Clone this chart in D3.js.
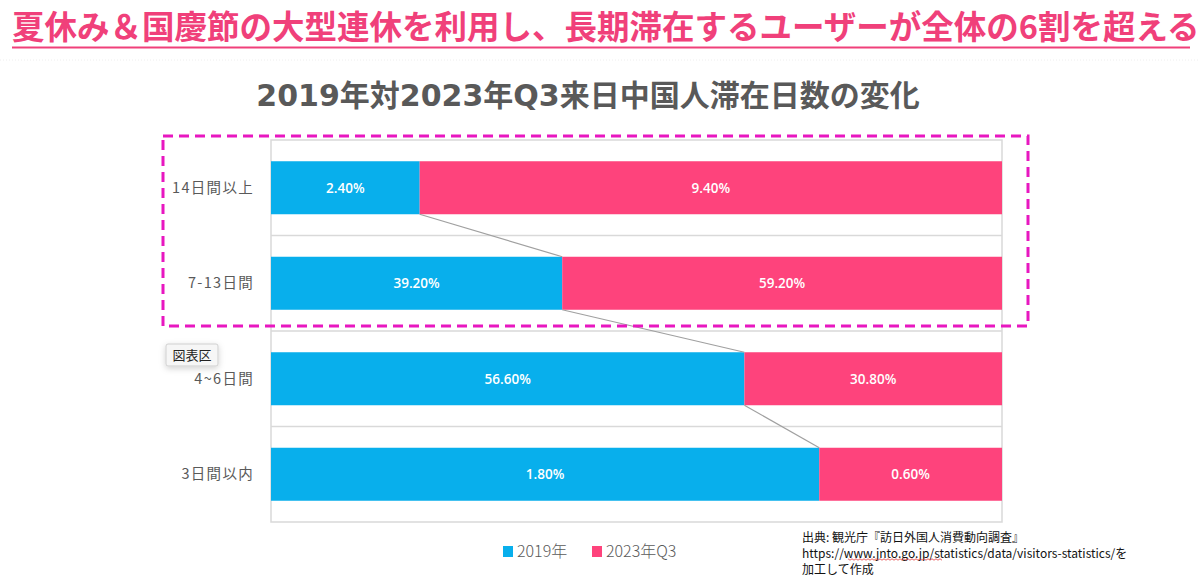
<!DOCTYPE html>
<html><head><meta charset="utf-8">
<script src="https://cdn.jsdelivr.net/npm/d3@7/dist/d3.min.js"></script>
<style>
html,body{margin:0;padding:0;background:#fff;}
svg{display:block;}
</style></head>
<body>
<svg id="chart" width="1200" height="577"></svg>
<script>
const headline = "夏休み＆国慶節の大型連休を利用し、長期滞在するユーザーが全体の6割を超える";
const chartTitle = "2019年対2023年Q3来日中国人滞在日数の変化";
const categories = ["14日間以上", "7-13日間", "4~6日間", "3日間以内"];
const seriesNames = ["2019年", "2023年Q3"];
const values2019 = [2.40, 39.20, 56.60, 1.80];
const values2023 = [9.40, 59.20, 30.80, 0.60];
const sourceLines = ["出典: 観光庁『訪日外国人消費動向調査』",
  "https://www.jnto.go.jp/statistics/data/visitors-statistics/を",
  "加工して作成"];
const tooltipText = "図表区";

const colors = ["#08AFEC", "#FE437C"];
const svg = d3.select("#chart");
const JP = "'Noto Sans CJK JP','Noto Sans',sans-serif";

// Headline
svg.append("text").attr("x", 12).attr("y", 39)
  .attr("font-family", JP).attr("font-weight", 700).attr("font-size", 32.5)
  .attr("fill", "#F0407A").text(headline);
svg.append("line").attr("x1", 12).attr("x2", 1190).attr("y1", 47.5).attr("y2", 47.5)
  .attr("stroke", "#F0407A").attr("stroke-width", 2);
svg.append("line").attr("x1", 0).attr("x2", 1200).attr("y1", 60).attr("y2", 60)
  .attr("stroke", "#eeeeee").attr("stroke-width", 1).attr("stroke-dasharray", "1,2");

// Chart title
svg.append("text").attr("x", 588).attr("y", 106).attr("text-anchor", "middle")
  .attr("font-family", "'DejaVu Sans','Noto Sans CJK JP',sans-serif").attr("font-weight", 700).attr("font-size", 30)
  .attr("fill", "#595959").text(chartTitle);

// Scales
const plot = {left: 271, right: 1002, top: 140, bottom: 522};
const pad = 0.445;
const y = d3.scaleBand().domain(categories).range([plot.top, plot.bottom])
  .paddingInner(pad).paddingOuter(pad / 2);
const x = d3.scaleLinear().domain([0, 1]).range([plot.left, plot.right]);

const rows = categories.map((c, i) => {
  const tot = values2019[i] + values2023[i];
  return {cat: c, v: [values2019[i], values2023[i]], s: values2019[i] / tot};
});

// Plot frame and gridlines between categories
const g = svg.append("g");
g.append("rect").attr("x", plot.left).attr("y", plot.top)
  .attr("width", plot.right - plot.left).attr("height", plot.bottom - plot.top)
  .attr("fill", "none").attr("stroke", "#d9d9d9").attr("stroke-width", 1.5);
categories.slice(1).forEach(c => {
  const yy = y(c) - y.step() * pad / 2;
  g.append("line").attr("x1", plot.left).attr("x2", plot.right)
    .attr("y1", yy).attr("y2", yy).attr("stroke", "#d9d9d9").attr("stroke-width", 1.5);
});

// Bars
const stack = d3.stack().keys([0, 1]).offset(d3.stackOffsetExpand)
  .value((d, k) => d.v[k]);
const layers = stack(rows);
layers.forEach((layer, k) => {
  g.selectAll(null).data(layer).enter().append("rect")
    .attr("x", d => x(d[0])).attr("width", d => x(d[1]) - x(d[0]))
    .attr("y", d => y(d.data.cat)).attr("height", y.bandwidth())
    .attr("fill", colors[k]);
  g.selectAll(null).data(layer).enter().append("text")
    .attr("x", d => (x(d[0]) + x(d[1])) / 2)
    .attr("y", d => y(d.data.cat) + y.bandwidth() / 2 + 5)
    .attr("text-anchor", "middle").attr("fill", "#fff")
    .attr("font-family", "'Open Sans',sans-serif").attr("font-size", 13.5).attr("font-weight", 600)
    .text(d => d.data.v[k].toFixed(2) + "%");
});

// Series lines
for (let i = 0; i < rows.length - 1; i++) {
  g.append("line")
    .attr("x1", x(rows[i].s)).attr("y1", y(rows[i].cat) + y.bandwidth())
    .attr("x2", x(rows[i + 1].s)).attr("y2", y(rows[i + 1].cat))
    .attr("stroke", "#a0a0a0").attr("stroke-width", 1.2);
}

// Category labels
g.selectAll(null).data(categories).enter().append("text")
  .attr("x", 254).attr("y", c => y(c) + y.bandwidth() / 2 + 5)
  .attr("text-anchor", "end").attr("font-family", JP).attr("font-size", 14.5)
  .attr("letter-spacing", 1.3).attr("fill", "#595959").text(c => c);

// Dashed highlight box
svg.append("rect").attr("x", 163).attr("y", 136).attr("width", 865).attr("height", 190)
  .attr("fill", "none").attr("stroke", "#E817C0").attr("stroke-width", 3)
  .attr("stroke-dasharray", "10,6");

// Tooltip
const defs = svg.append("defs");
const f = defs.append("filter").attr("id", "sh").attr("x", "-50%").attr("y", "-50%")
  .attr("width", "200%").attr("height", "200%");
f.append("feDropShadow").attr("dx", 0).attr("dy", 2).attr("stdDeviation", 3)
  .attr("flood-color", "#000").attr("flood-opacity", 0.18);
svg.append("rect").attr("x", 166).attr("y", 344).attr("width", 52).attr("height", 22)
  .attr("fill", "#f6f6f6").attr("stroke", "#cfcfcf").attr("rx", 2).attr("filter", "url(#sh)");
svg.append("text").attr("x", 192).attr("y", 360).attr("text-anchor", "middle")
  .attr("font-family", JP).attr("font-size", 13).attr("fill", "#222").text(tooltipText);

// Legend
const leg = svg.append("g");
const legX = [503, 592];
seriesNames.forEach((n, k) => {
  leg.append("rect").attr("x", legX[k]).attr("y", 546).attr("width", 10).attr("height", 11)
    .attr("fill", colors[k]);
  leg.append("text").attr("x", legX[k] + 14).attr("y", 557)
    .attr("font-family", JP).attr("font-weight", 300).attr("font-size", 16).attr("fill", "#595959").text(n);
});

// Source
sourceLines.forEach((t, i) => {
  svg.append("text").attr("x", 802).attr("y", 542 + i * 16)
    .attr("font-family", JP).attr("font-size", 12).attr("fill", "#111").text(t);
});
// spell-check wavy underline under the url host
(function(){
  const x0 = 848, x1 = 943, yy = 559;
  const pts = [];
  for (let xx = x0, k = 0; xx <= x1; xx += 2, k++) pts.push([xx, yy + (k % 2 ? 1.2 : -0.2)]);
  svg.append("path").attr("d", d3.line()(pts)).attr("fill", "none")
    .attr("stroke", "#e23b3b").attr("stroke-width", 0.8);
})();
</script>
</body></html>
